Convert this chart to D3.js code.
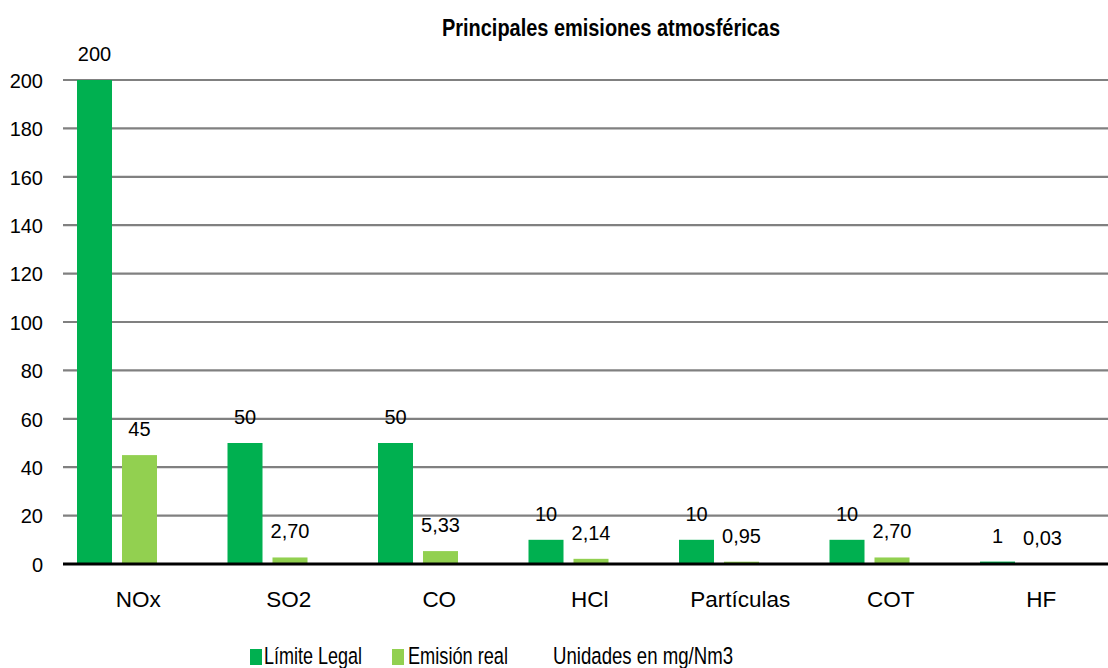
<!DOCTYPE html>
<html>
<head>
<meta charset="utf-8">
<script src="https://cdn.jsdelivr.net/npm/d3@7"></script>
<style>
  html, body { margin: 0; padding: 0; background: #fff; }
  svg { display: block; font-family: "Liberation Sans", Arial, sans-serif; }
</style>
</head>
<body>
<svg id="chart" width="1108" height="668"></svg>
<script>
// Emission data (mg/Nm3)
const categories = ["NOx", "SO2", "CO", "HCl", "Partículas", "COT", "HF"];
const limiteLegal = [200, 50, 50, 10, 10, 10, 1];
const emisionReal = [45, 2.70, 5.33, 2.14, 0.95, 2.70, 0.03];
const yTicks = [0, 20, 40, 60, 80, 100, 120, 140, 160, 180, 200];
const seriesNames = ["Límite Legal", "Emisión real"];
const seriesColors = ["#00B050", "#92D050"];
const titleText = "Principales emisiones atmosféricas";
const unitsText = "Unidades en mg/Nm3";

const svg = d3.select("#chart");
const W = 1108, H = 668;

const plotLeft = 63, bandStep = 150.5;
const y = d3.scaleLinear().domain([0, 200]).range([564, 80]);
const x0 = d3.scaleBand().domain(categories)
  .range([plotLeft, plotLeft + bandStep * categories.length]).padding(0);
const x1 = d3.scaleBand().domain(seriesNames).range([14, 94]).paddingInner(0.222);

const rows = categories.map((c, i) => ({
  cat: c,
  values: [
    { s: seriesNames[0], v: limiteLegal[i] },
    { s: seriesNames[1], v: emisionReal[i] }
  ]
}));

// Title
svg.append("text")
  .attr("x", 442).attr("y", 36)
  .attr("font-size", 23.5).attr("font-weight", "bold").attr("fill", "#000")
  .attr("textLength", 338).attr("lengthAdjust", "spacingAndGlyphs")
  .text(titleText);

// Horizontal gridlines
svg.append("g").selectAll("line")
  .data(yTicks.filter(t => t > 0))
  .join("line")
  .attr("x1", plotLeft).attr("x2", W)
  .attr("y1", d => y(d)).attr("y2", d => y(d))
  .attr("stroke", "#808080").attr("stroke-width", 2.2);

// Y axis labels
const yAxis = d3.axisLeft(y).tickValues(yTicks).tickSize(0).tickPadding(0);
const gy = svg.append("g").attr("transform", "translate(43,0)").call(yAxis);
gy.select(".domain").remove();
gy.selectAll("text")
  .attr("font-family", "Liberation Sans, Arial, sans-serif")
  .attr("font-size", 20).attr("fill", "#000").attr("dy", "0.36em");

// Bars
const groups = svg.append("g").selectAll("g")
  .data(rows).join("g")
  .attr("transform", d => `translate(${x0(d.cat)},0)`);

groups.selectAll("rect")
  .data(d => d.values).join("rect")
  .attr("x", d => x1(d.s))
  .attr("width", x1.bandwidth())
  .attr("y", d => y(d.v))
  .attr("height", d => y(0) - y(d.v))
  .attr("fill", (d, i) => seriesColors[i]);

// Value labels
const fmt = v => Number.isInteger(v) ? String(v) : v.toFixed(2).replace(".", ",");
groups.selectAll("text.val")
  .data(d => d.values).join("text")
  .attr("class", "val")
  .attr("x", d => x1(d.s) + x1.bandwidth() / 2)
  .attr("y", d => y(d.v) - 19)
  .attr("text-anchor", "middle")
  .attr("font-size", 20).attr("fill", "#000")
  .text(d => fmt(d.v));

// Zero axis line
svg.append("line")
  .attr("x1", plotLeft).attr("x2", W)
  .attr("y1", y(0)).attr("y2", y(0))
  .attr("stroke", "#000").attr("stroke-width", 3);

// Category labels
const xAxis = d3.axisBottom(x0).tickSize(0).tickPadding(0);
const gx = svg.append("g").attr("transform", "translate(0,607)").call(xAxis);
gx.select(".domain").remove();
gx.selectAll("text")
  .attr("font-family", "Liberation Sans, Arial, sans-serif")
  .attr("font-size", 22.5).attr("fill", "#000").attr("dy", 0);

// Legend
const legend = [
  { label: seriesNames[0], color: seriesColors[0], kx: 250, tx: 264, len: 98 },
  { label: seriesNames[1], color: seriesColors[1], kx: 392, tx: 408, len: 100 }
];
const lg = svg.append("g");
legend.forEach(l => {
  lg.append("rect").attr("x", l.kx).attr("y", 649).attr("width", 12).attr("height", 16)
    .attr("fill", l.color);
  lg.append("text").attr("x", l.tx).attr("y", 664)
    .attr("font-size", 24.5).attr("fill", "#000")
    .attr("textLength", l.len).attr("lengthAdjust", "spacingAndGlyphs")
    .text(l.label);
});
lg.append("text").attr("x", 553).attr("y", 664)
  .attr("font-size", 24.5).attr("fill", "#000")
  .attr("textLength", 180).attr("lengthAdjust", "spacingAndGlyphs")
  .text(unitsText);
</script>
</body>
</html>
